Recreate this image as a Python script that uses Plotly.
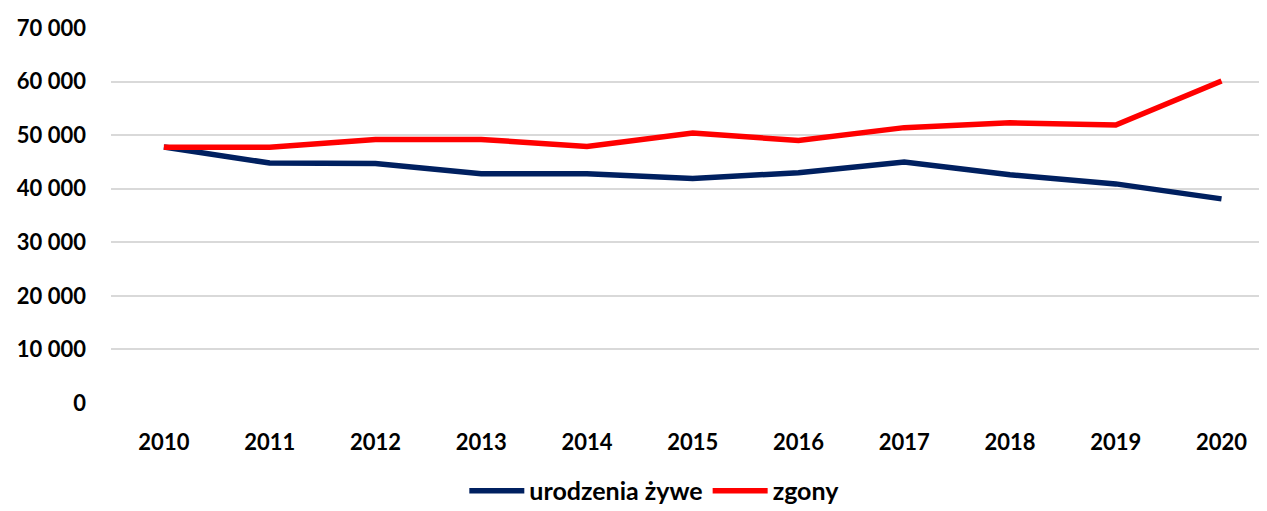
import plotly.graph_objects as go

years = ["2010", "2011", "2012", "2013", "2014", "2015", "2016", "2017", "2018", "2019", "2020"]
urodzenia = [47800, 44800, 44700, 42800, 42800, 41900, 43000, 45000, 42600, 40900, 38100]
zgony = [47750, 47750, 49200, 49200, 47900, 50400, 49000, 51400, 52300, 51900, 60100]
y_ticks = [0, 10000, 20000, 30000, 40000, 50000, 60000, 70000]
y_tick_labels = ["0", "10 000", "20 000", "30 000", "40 000", "50 000", "60 000", "70 000"]

FONT = "Lato"

fig = go.Figure()
fig.add_trace(go.Scatter(x=years, y=urodzenia, mode="lines", name="urodzenia żywe",
                         line=dict(color="#002060", width=5.5)))
fig.add_trace(go.Scatter(x=years, y=zgony, mode="lines", name="zgony",
                         line=dict(color="#FF0000", width=5.5)))

fig.update_layout(
    width=1259, height=503,
    margin=dict(l=103, r=0, t=20, b=108, autoexpand=False),
    paper_bgcolor="white", plot_bgcolor="white",
    font=dict(family=FONT, size=22, color="#000000", weight="bold"),
    showlegend=True,
    legend=dict(orientation="h", x=0.47, xanchor="center", yref="container",
                y=0.04, yanchor="middle",
                font=dict(family=FONT, size=25, color="#000000", weight="bold"),
                itemwidth=55, tracegroupgap=0),
)
fig.update_xaxes(type="category", range=[-0.5, 10.43], showgrid=False, showline=False,
                 zeroline=False, ticks="", ticklabelstandoff=24, automargin=False,
                 tickfont=dict(family=FONT, size=22, weight="bold"))
fig.update_yaxes(range=[0, 70000], tickvals=y_ticks, ticktext=y_tick_labels,
                 showgrid=True, gridcolor="#d9d9d9", gridwidth=1.5, zeroline=False,
                 showline=False, ticks="", ticklabelstandoff=24, automargin=False,
                 tickfont=dict(family=FONT, size=22, weight="bold"))

fig.write_html("out.html")
